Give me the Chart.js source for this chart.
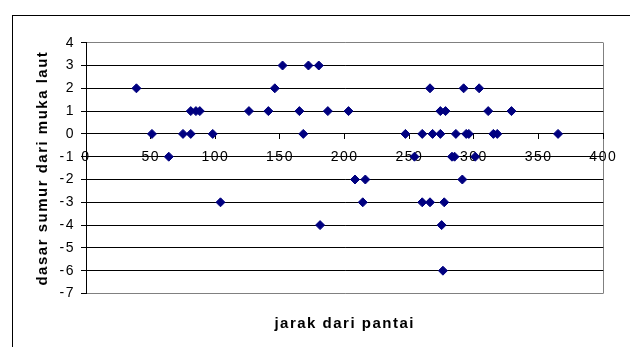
<!DOCTYPE html>
<html>
<head>
<meta charset="utf-8">
<script src="https://cdn.jsdelivr.net/npm/chart.js@4/dist/chart.umd.min.js"></script>
<style>
  html, body { margin: 0; padding: 0; background: #fff; overflow: hidden; }
  canvas { display: block; }
</style>
</head>
<body>
<canvas id="chart" width="630" height="347"></canvas>
<script>
// Jarak sumur dari pantai (m) dan kedalaman dasar sumur terhadap muka laut (m)
const jarak = [39, 51, 64, 75, 81, 81, 85, 88, 98, 104,
               126, 141, 146, 152, 165, 168, 172, 180, 181, 187,
               203, 208, 216, 214, 247, 254, 260, 260, 266, 266,
               268, 274, 274, 278, 275, 276, 277, 283, 285, 286,
               291, 292, 294, 296, 301, 304, 311, 315, 318, 329,
               365];
const dasar = [2, 0, -1, 0, 0, 1, 1, 1, 0, -3,
               1, 1, 2, 3, 1, 0, 3, 3, -4, 1,
               1, -2, -2, -3, 0, -1, 0, -3, -3, 2,
               0, 0, 1, 1, -4, -6, -3, -1, -1, 0,
               -2, 2, 0, 0, -1, 2, 1, 0, 0, 1,
               0];

const jarakTicks = [0, 50, 100, 150, 200, 250, 300, 350, 400];
const dasarTicks = [4, 3, 2, 1, 0, -1, -2, -3, -4, -5, -6, -7];

const xTitle = 'jarak dari pantai';
const yTitle = 'dasar sumur dari muka laut';

const points = jarak.map((x, i) => ({ x: x, y: dasar[i] }));

const FONT = '"Liberation Sans", Arial, sans-serif';

// widen glyph spacing a little for all canvas text
const spacingPlugin = {
  id: 'spacing',
  beforeUpdate(chart) { chart.ctx.letterSpacing = '1.5px'; },
  beforeDraw(chart) { chart.ctx.letterSpacing = '1.5px'; }
};

// thin outer frame of the chart object (runs past the right and bottom edges)
const framePlugin = {
  id: 'frame',
  afterDraw(chart) {
    const ctx = chart.ctx;
    ctx.save();
    ctx.strokeStyle = '#000';
    ctx.lineWidth = 1;
    ctx.strokeRect(12.5, 15.5, chart.width + 10, chart.height + 10);
    ctx.restore();
  }
};

new Chart(document.getElementById('chart'), {
  type: 'scatter',
  data: {
    datasets: [{
      data: points,
      pointStyle: 'rectRot',
      pointRadius: 4.5,
      pointHoverRadius: 4.5,
      borderWidth: 1,
      backgroundColor: '#000080',
      borderColor: '#000080'
    }]
  },
  plugins: [spacingPlugin, framePlugin],
  options: {
    responsive: false,
    animation: false,
    devicePixelRatio: 1,
    layout: { padding: { left: 0, right: 26.7, top: 42.7, bottom: 14.5 } },
    plugins: {
      legend: { display: false },
      tooltip: { enabled: false },
      title: {
        display: true,
        position: 'bottom',
        fullSize: false,
        text: xTitle,
        color: '#000',
        font: { family: FONT, size: 15, weight: 'bold', lineHeight: 1.2 },
        padding: { top: 21, bottom: 0 }
      }
    },
    scales: {
      x: {
        type: 'linear',
        position: { y: 0 },
        min: 0,
        max: 400,
        afterBuildTicks(scale) { scale.ticks = jarakTicks.map(v => ({ value: v })); },
        ticks: {
          autoSkip: false,
          maxRotation: 0,
          minRotation: 0,
          padding: 10,
          color: '#000',
          font: { family: FONT, size: 14 }
        },
        grid: {
          drawOnChartArea: true,
          drawTicks: true,
          tickLength: 5,
          tickColor: '#000',
          color: (ctx) => (ctx.tick && ctx.tick.value === 400 ? '#808080' : 'rgba(0,0,0,0)'),
          lineWidth: 1
        },
        border: { display: true, color: '#000', width: 1 }
      },
      y: {
        type: 'linear',
        position: 'left',
        min: -7,
        max: 4,
        afterBuildTicks(scale) { scale.ticks = dasarTicks.map(v => ({ value: v })); },
        afterFit(scale) { scale.width = 86; },
        ticks: {
          padding: 6,
          color: '#000',
          font: { family: FONT, size: 14 }
        },
        grid: {
          drawTicks: true,
          tickLength: 5,
          tickColor: '#000',
          color: (ctx) => (ctx.tick && (ctx.tick.value === 4 || ctx.tick.value === -7) ? '#808080' : '#000'),
          lineWidth: 1
        },
        border: { display: true, color: '#000', width: 1 },
        title: {
          display: true,
          text: yTitle,
          color: '#000',
          font: { family: FONT, size: 15, weight: 'bold', lineHeight: 1.2 },
          padding: { top: 34, bottom: 0 }
        }
      }
    }
  }
});
</script>
</body>
</html>
